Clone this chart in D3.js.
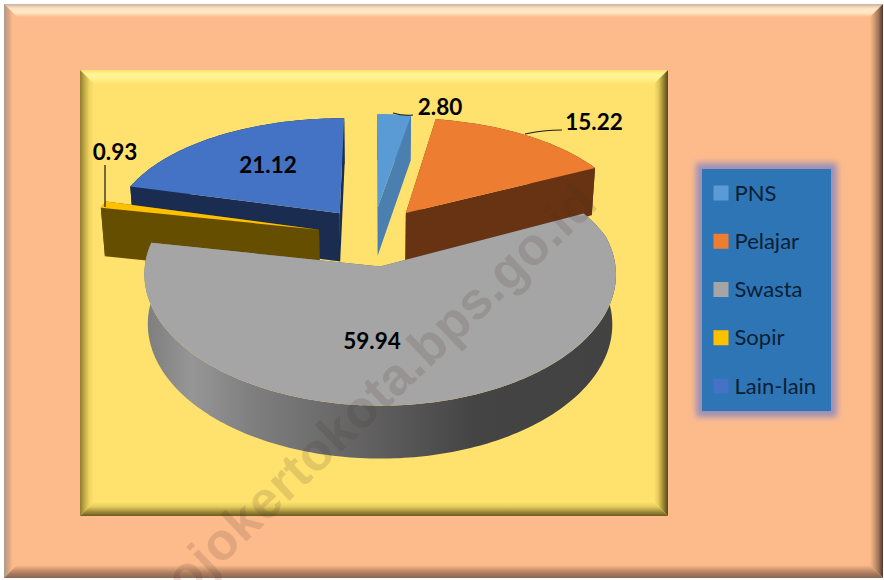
<!DOCTYPE html>
<html>
<head>
<meta charset="utf-8">
<script src="https://cdn.jsdelivr.net/npm/d3@7"></script>
<style>
  html, body { margin: 0; padding: 0; background: #fff; }
  svg { display: block; }
</style>
</head>
<body>
<div id="chart"></div>
<script>
const categories = ["PNS", "Pelajar", "Swasta", "Sopir", "Lain-lain"];
const values = [2.80, 15.22, 59.94, 0.93, 21.12];
const topColors = ["#5b9bd5", "#ed7d31", "#a5a5a5", "#ffc000", "#4472c4"];
const wallColors = ["#4a7fb0", "#683312", "url(#swasta-wall)", "#664e00", "#1a2c50"];

const width = 884, height = 580;
const svg = d3.select("#chart").append("svg")
  .attr("width", width)
  .attr("height", height);
const defs = svg.append("defs");

// bevelled frame, each side is a mitred trapezoid with its own gradient
function bevel(id, box, w, base, sides) {
  svg.append("rect")
    .attr("x", box.x0).attr("y", box.y0)
    .attr("width", box.x1 - box.x0).attr("height", box.y1 - box.y0)
    .attr("fill", base);
  const { x0, y0, x1, y1 } = box;
  const faces = [
    { key: "top", pts: [[x0, y0], [x1, y0], [x1 - w, y0 + w], [x0 + w, y0 + w]], dir: [0, 0, 0, 1] },
    { key: "left", pts: [[x0, y0], [x0 + w, y0 + w], [x0 + w, y1 - w], [x0, y1]], dir: [0, 0, 1, 0] },
    { key: "right", pts: [[x1, y0], [x1 - w, y0 + w], [x1 - w, y1 - w], [x1, y1]], dir: [1, 0, 0, 0] },
    { key: "bottom", pts: [[x0, y1], [x1, y1], [x1 - w, y1 - w], [x0 + w, y1 - w]], dir: [0, 1, 0, 0] }
  ];
  faces.forEach(f => {
    const g = defs.append("linearGradient")
      .attr("id", `${id}-${f.key}`)
      .attr("x1", f.dir[0]).attr("y1", f.dir[1])
      .attr("x2", f.dir[2]).attr("y2", f.dir[3]);
    sides[f.key].forEach((c, i, arr) => {
      g.append("stop")
        .attr("offset", i / (arr.length - 1))
        .attr("stop-color", c);
    });
    svg.append("polygon")
      .attr("points", f.pts.map(p => p.join(",")).join(" "))
      .attr("fill", `url(#${id}-${f.key})`);
  });
}

bevel("outer", { x0: 4, y0: 4, x1: 883, y1: 578 }, 13, "#fdbb8c", {
  top: ["#c9b2a0", "#fde3c0", "#ffe9c8", "#fdbb8c"],
  left: ["#a89a90", "#d8a47e", "#fdbb8c", "#fdbb8c"],
  right: ["#50382e", "#9c7558", "#d09a72", "#fdbb8c"],
  bottom: ["#8a6650", "#a8795c", "#d09a72", "#fdbb8c"]
});

bevel("inner", { x0: 80, y0: 70, x1: 668, y1: 516 }, 14, "#ffe26d", {
  top: ["#ffe26d", "#fff59a", "#fff08a", "#ffe26d"],
  left: ["#8f7c30", "#c4ac48", "#f0d362", "#ffe26d"],
  right: ["#54481c", "#9a8636", "#e0c65a", "#ffe26d"],
  bottom: ["#6a5a22", "#a8923c", "#e6cc5e", "#ffe26d"]
});

// gradient of the big slice's wall
const wallGrad = defs.append("linearGradient")
  .attr("id", "swasta-wall")
  .attr("gradientUnits", "userSpaceOnUse")
  .attr("x1", 145).attr("x2", 615).attr("y1", 0).attr("y2", 0);
[[0, "#7d7d7d"], [0.1, "#969696"], [0.22, "#808080"], [0.48, "#606060"], [0.7, "#444444"], [1, "#424242"]]
  .forEach(s => wallGrad.append("stop").attr("offset", s[0]).attr("stop-color", s[1]));

// ========= PIE =========
const cx = 373, cy = 236, rx = 232, ry = 126, depth = 49, explode = 0.24;

// pie plane to screen, with rough perspective (far side shrinks more)
function project(X, Y, drop) {
  const sx = 1 / (1 + (Y > 0 ? 0.16 : 0.06) * Y);
  const sy = 1 / (1 + (Y > 0 ? 0.228 : 0.065) * Y);
  const sd = 1 / (1 + 0.06 * Y);
  return [
    cx + X * rx * sx * (drop ? 0.985 : 1),
    cy - Y * ry * sy + drop * depth * sd
  ];
}

const slices = d3.pie().sort(null)(values).map((d, i) => {
  const mid = (d.startAngle + d.endAngle) / 2;
  return { ...d, i, ox: explode * Math.sin(mid), oy: explode * Math.cos(mid) };
});

const apex = (s, drop) => project(s.ox, s.oy, drop);
const rim = (s, a, drop) => project(s.ox + Math.sin(a), s.oy + Math.cos(a), drop);
const arcAngles = s => {
  const n = Math.max(3, Math.ceil((s.endAngle - s.startAngle) / 0.02));
  return d3.range(n + 1).map(k => s.startAngle + (s.endAngle - s.startAngle) * k / n);
};
const line = d3.line();

const pieGroup = svg.append("g");
// back to front
[4, 3, 0, 1, 2].forEach(idx => {
  const s = slices[idx];
  const g = pieGroup.append("g").attr("class", "slice-" + categories[idx]);
  const wall = wallColors[idx];
  [s.startAngle, s.endAngle].forEach(a => {
    g.append("path")
      .attr("d", line([apex(s, 0), rim(s, a, 0), rim(s, a, 1), apex(s, 1)]) + "Z")
      .attr("fill", wall);
  });
  const angles = arcAngles(s);
  g.append("path")
    .attr("d", line(angles.map(a => rim(s, a, 0)).concat(angles.slice().reverse().map(a => rim(s, a, 1)))) + "Z")
    .attr("fill", wall);
  g.append("path")
    .attr("d", line([apex(s, 0)].concat(angles.map(a => rim(s, a, 0)))) + "Z")
    .attr("fill", topColors[idx]);
});

// leader lines
const leaders = [
  "M393,113Q403,116 413,115",
  "M525,134Q543,130 562,130",
  "M105,165L105,207"
];
svg.selectAll(".leader").data(leaders).enter().append("path")
  .attr("class", "leader")
  .attr("d", d => d)
  .attr("fill", "none")
  .attr("stroke", "#1a1a1a")
  .attr("stroke-width", 1.2);

// data labels
const labelPos = [[440, 107], [594, 122], [372, 341], [115, 152], [268, 165]];
svg.selectAll(".value").data(values).enter().append("text")
  .attr("class", "value")
  .attr("x", (d, i) => labelPos[i][0])
  .attr("y", (d, i) => labelPos[i][1])
  .attr("dy", "0.35em")
  .attr("text-anchor", "middle")
  .style("font-family", "Lato, sans-serif")
  .style("font-size", "22.5px")
  .style("font-weight", "bold")
  .style("fill", "#000")
  .text(d => d.toFixed(2));

// ========= LEGEND =========
const glow = defs.append("filter").attr("id", "glow")
  .attr("x", "-30%").attr("y", "-30%").attr("width", "160%").attr("height", "160%");
glow.append("feGaussianBlur").attr("stdDeviation", 3);

const lx = 702, ly = 169, lw = 129, lh = 242;
svg.append("rect")
  .attr("x", lx - 6).attr("y", ly - 6)
  .attr("width", lw + 12).attr("height", lh + 12)
  .attr("fill", "#9a8fb8")
  .attr("filter", "url(#glow)");
svg.append("rect")
  .attr("x", lx).attr("y", ly)
  .attr("width", lw).attr("height", lh)
  .attr("fill", "#2e75b6");

const legendY = d3.scalePoint().domain(categories).range([193, 386]);
const legend = svg.selectAll(".legend-item").data(categories).enter().append("g")
  .attr("class", "legend-item")
  .attr("transform", d => `translate(${lx + 11.5},${legendY(d)})`);
legend.append("rect")
  .attr("y", -7.5)
  .attr("width", 15)
  .attr("height", 15)
  .attr("fill", (d, i) => topColors[i]);
legend.append("text")
  .attr("x", 21)
  .attr("dy", "0.35em")
  .style("font-family", "Lato, sans-serif")
  .style("font-size", "22px")
  .style("fill", "#0b1f33")
  .text(d => d);

// ========= WATERMARK =========
svg.append("text")
  .attr("transform", "translate(600,206) rotate(-43.5)")
  .attr("text-anchor", "end")
  .style("font-family", "'Liberation Sans', sans-serif")
  .style("font-size", "52px")
  .style("letter-spacing", "0.6px")
  .style("font-weight", "bold")
  .style("fill", "rgba(70,50,40,0.15)")
  .text("mojokertokota.bps.go.id");
</script>
</body>
</html>
